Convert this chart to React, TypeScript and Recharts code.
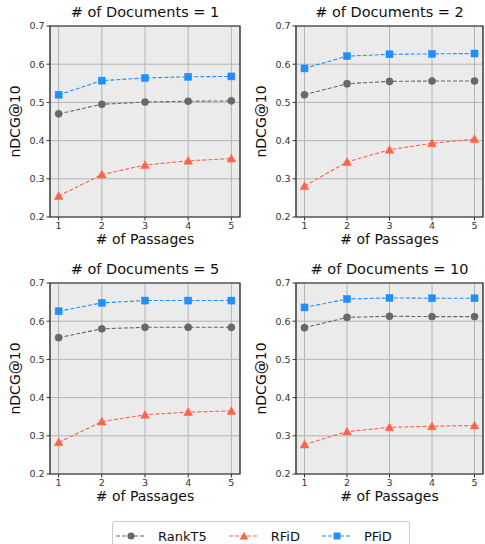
import React from "react";
import { CartesianGrid, Line, LineChart, ReferenceArea, XAxis, YAxis } from "recharts";

const passages = [1, 2, 3, 4, 5];
const yTicks = [0.2, 0.3, 0.4, 0.5, 0.6, 0.7];

const rankT5Docs1 = [0.47, 0.495, 0.501, 0.503, 0.504];
const rfidDocs1 = [0.255, 0.311, 0.336, 0.347, 0.353];
const pfidDocs1 = [0.52, 0.557, 0.564, 0.567, 0.568];

const rankT5Docs2 = [0.52, 0.549, 0.555, 0.556, 0.556];
const rfidDocs2 = [0.281, 0.344, 0.376, 0.393, 0.404];
const pfidDocs2 = [0.589, 0.621, 0.626, 0.627, 0.628];

const rankT5Docs5 = [0.557, 0.58, 0.584, 0.584, 0.584];
const rfidDocs5 = [0.283, 0.337, 0.355, 0.362, 0.365];
const pfidDocs5 = [0.626, 0.648, 0.654, 0.654, 0.654];

const rankT5Docs10 = [0.583, 0.61, 0.613, 0.612, 0.612];
const rfidDocs10 = [0.277, 0.311, 0.322, 0.325, 0.327];
const pfidDocs10 = [0.636, 0.658, 0.661, 0.66, 0.66];

const GRAY = "#686868";
const RED = "#ff6347";
const BLUE = "#1e90ff";
const FONT = "'DejaVu Sans', sans-serif";

function buildRows(a: number[], b: number[], c: number[]) {
  return passages.map((p, i) => ({ p, rankT5: a[i], rfid: b[i], pfid: c[i] }));
}

const circleDot = (props: any) => {
  const { cx, cy, key } = props;
  return <circle key={key} cx={cx} cy={cy} r={3.6} fill={GRAY} stroke={GRAY} strokeWidth={0.5} />;
};
const triangleDot = (props: any) => {
  const { cx, cy, key } = props;
  const s = 4.3;
  return (
    <path
      key={key}
      d={`M${cx},${cy - s} L${cx + s},${cy + s * 0.8} L${cx - s},${cy + s * 0.8} Z`}
      fill={RED}
      stroke={RED}
      strokeWidth={0.5}
    />
  );
};
const squareDot = (props: any) => {
  const { cx, cy, key } = props;
  return <rect key={key} x={cx - 3.5} y={cy - 3.5} width={7} height={7} fill={BLUE} stroke={BLUE} strokeWidth={0.5} />;
};

function Panel({
  title,
  rows,
  left,
  top,
  yAxisWidth,
  marginRight,
  marginTop,
}: {
  title: string;
  rows: ReturnType<typeof buildRows>;
  left: number;
  top: number;
  yAxisWidth: number;
  marginRight: number;
  marginTop: number;
}) {
  const width = 245;
  const height = marginTop + 191 + 40;
  const plotLeft = yAxisWidth;
  const plotRight = width - marginRight;
  const plotMid = (plotLeft + plotRight) / 2;
  return (
    <div style={{ position: "absolute", left, top, width, height }}>
      <LineChart
        width={width}
        height={height}
        data={rows}
        margin={{ top: marginTop, right: marginRight, left: 0, bottom: 0 }}
      >
        <CartesianGrid fill="#ebebeb" stroke="#b4b4b4" strokeWidth={1} />
        <XAxis
          dataKey="p"
          type="number"
          domain={[0.8, 5.2]}
          ticks={passages}
          allowDataOverflow
          height={40}
          tickSize={3.5}
          tickMargin={2}
          axisLine={false}
          tickLine={{ stroke: "#333" }}
          tick={{ fill: "#333", fontSize: 9.5, fontFamily: FONT }}
        />
        <YAxis
          type="number"
          domain={[0.2, 0.7]}
          ticks={yTicks}
          allowDataOverflow
          width={yAxisWidth}
          tickSize={3.5}
          tickMargin={2}
          axisLine={false}
          tickLine={{ stroke: "#333" }}
          tick={{ fill: "#333", fontSize: 9.5, fontFamily: FONT }}
          tickFormatter={(v) => Number(v).toFixed(1)}
        />
        <ReferenceArea x1={0.8} x2={5.2} y1={0.2} y2={0.7} fill="none" stroke="#222" strokeWidth={1.2} />
        <Line
          dataKey="rankT5"
          stroke={GRAY}
          strokeWidth={1.1}
          strokeDasharray="4 2"
          dot={circleDot}
          isAnimationActive={false}
        />
        <Line
          dataKey="rfid"
          stroke={RED}
          strokeWidth={1.1}
          strokeDasharray="4 2"
          dot={triangleDot}
          isAnimationActive={false}
        />
        <Line
          dataKey="pfid"
          stroke={BLUE}
          strokeWidth={1.1}
          strokeDasharray="4 2"
          dot={squareDot}
          isAnimationActive={false}
        />
      </LineChart>
      <div
        style={{
          position: "absolute",
          left: plotMid - 120,
          width: 240,
          top: marginTop - 22,
          textAlign: "center",
          fontSize: 14.5,
          fontFamily: FONT,
          color: "#111",
          lineHeight: "17px",
        }}
      >
        {title}
      </div>
      <div
        style={{
          position: "absolute",
          left: plotMid - 100,
          width: 200,
          top: marginTop + 191 + 14,
          textAlign: "center",
          fontSize: 14,
          fontFamily: FONT,
          color: "#111",
          lineHeight: "17px",
        }}
      >
        # of Passages
      </div>
      <div
        style={{
          position: "absolute",
          left: plotLeft - 35 - 50,
          top: marginTop + 95 - 8,
          width: 100,
          textAlign: "center",
          fontSize: 14,
          fontFamily: FONT,
          color: "#111",
          lineHeight: "17px",
          transform: "rotate(-90deg)",
        }}
      >
        nDCG@10
      </div>
    </div>
  );
}

function LegendItem({ color, label, marker }: { color: string; label: string; marker: string }) {
  return (
    <div style={{ display: "flex", alignItems: "center", marginRight: 10 }}>
      <svg width={30} height={12} style={{ marginRight: 12 }}>
        <line x1={0} y1={6} x2={30} y2={6} stroke={color} strokeWidth={1.1} strokeDasharray="4 2" />
        {marker === "circle" && <circle cx={15} cy={6} r={3.6} fill={color} />}
        {marker === "triangle" && <path d="M15,1.7 L19.3,9.4 L10.7,9.4 Z" fill={color} />}
        {marker === "square" && <rect x={11.5} y={2.5} width={7} height={7} fill={color} />}
      </svg>
      <span style={{ fontSize: 13, fontFamily: FONT, color: "#111" }}>{label}</span>
    </div>
  );
}

export default function App() {
  return (
    <div style={{ position: "absolute", left: 0, top: 0, width: 485, height: 544, background: "#fff", overflow: "hidden" }}>
      <Panel title="# of Documents = 1" rows={buildRows(rankT5Docs1, rfidDocs1, pfidDocs1)} left={0} top={0} yAxisWidth={50} marginRight={5} marginTop={26} />
      <Panel title="# of Documents = 2" rows={buildRows(rankT5Docs2, rfidDocs2, pfidDocs2)} left={240} top={0} yAxisWidth={56} marginRight={2} marginTop={26} />
      <Panel title="# of Documents = 5" rows={buildRows(rankT5Docs5, rfidDocs5, pfidDocs5)} left={0} top={250} yAxisWidth={50} marginRight={5} marginTop={33} />
      <Panel title="# of Documents = 10" rows={buildRows(rankT5Docs10, rfidDocs10, pfidDocs10)} left={240} top={250} yAxisWidth={56} marginRight={2} marginTop={33} />
      <div
        style={{
          position: "absolute",
          left: 112,
          top: 521,
          width: 298,
          height: 30,
          border: "1px solid #ccc",
          borderRadius: 3,
          boxSizing: "border-box",
          display: "flex",
          alignItems: "center",
          paddingLeft: 3,
          paddingTop: 0,
          gap: 12,
          background: "#fff",
        }}
      >
        <LegendItem color={GRAY} label="RankT5" marker="circle" />
        <LegendItem color={RED} label="RFiD" marker="triangle" />
        <LegendItem color={BLUE} label="PFiD" marker="square" />
      </div>
    </div>
  );
}
